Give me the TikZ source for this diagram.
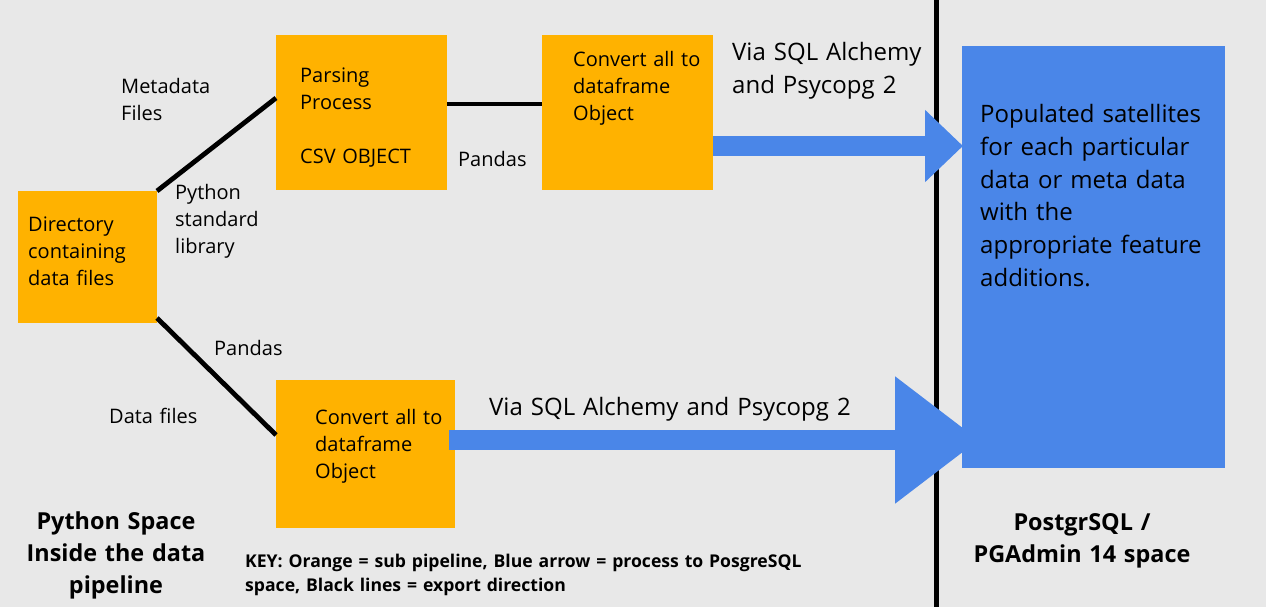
\documentclass[tikz,border=0pt]{standalone}
\usepackage{fontspec}
\setmainfont{Open Sans}
\usepackage{xcolor}
\usepackage{tikz}
\usetikzlibrary{arrows.meta,positioning}
\definecolor{bgGray}{HTML}{E8E8E8}
\definecolor{pipeOrange}{HTML}{FFB200}
\definecolor{pgBlue}{HTML}{4A86E8}
\tikzstyle{subPipe} = [rectangle, fill=pipeOrange, inner sep=0, outer sep=0, anchor=north west]
\tikzstyle{dbBox} = [rectangle, fill=pgBlue, inner sep=0, outer sep=0, anchor=north west]
\tikzstyle{exportLine} = [line width=4.8pt, black]
\tikzstyle{toPg} = [pgBlue, line width=20pt]
\tikzstyle{lbl} = [inner sep=0, text width=500pt, align=left, anchor=base west, font=\fontsize{20}{27}\selectfont]
\tikzstyle{bigLbl} = [lbl, font=\fontsize{24}{32.6}\selectfont]
\tikzstyle{spaceTitle} = [inner sep=0, text width=300pt, align=center, anchor=base, font=\bfseries\fontsize{23.4}{32.3}\selectfont]
\begin{document}
\begin{tikzpicture}[x=1pt,y=-1pt]
		\useasboundingbox (0,0) rectangle (1268,607);
		\fill[bgGray] (0,0) rectangle (1266,607);			% Hintergrund
		% nodes
		\node[subPipe, minimum width=139pt, minimum height=132pt] (dir) at (18,191) {};		% Verzeichnis
		\node[subPipe, minimum width=171pt, minimum height=155pt] (parse) at (276,35) {};		% Parsing
		\node[subPipe, minimum width=171pt, minimum height=155pt, right=95pt of parse] (convA) {}; 	% Dataframe oben
		\node[subPipe, minimum width=179pt, minimum height=148pt] (convB) at ([yshift=-190pt]parse.south west) {};	% Dataframe unten
		\node[dbBox, minimum width=263pt, minimum height=422pt] (sat) at (962,46) {};		% Satelliten
		\coordinate (divTop) at (936.5,0);		% Trennlinie
		\coordinate (divBot) at (936.5,607);
		\coordinate (tipA) at (963,146);		% Pfeilspitzen
		\coordinate (tipB) at (979,440);
		
		% texts
		\node[lbl] (dirTxt) at ([xshift=10pt,yshift=-40pt]dir.north west) {Directory\\containing\\data files};
		\node[lbl] (parseTxt) at ([xshift=24pt,yshift=-48pt]parse.north west) {Parsing\\Process\\[27pt]CSV OBJECT};
		\node[lbl] (convATxt) at ([xshift=31pt,yshift=-32pt]convA.north west) {Convert all to\\dataframe\\Object};
		\node[lbl] (convBTxt) at ([xshift=39pt,yshift=-44pt]convB.north west) {Convert all to\\dataframe\\Object};
		\node[bigLbl] (satTxt) at ([xshift=18pt,yshift=-77pt]sat.north west) {Populated satellites\\for each particular\\data or meta data\\with the\\appropriate feature\\additions.};
		\node[lbl] (metaTxt) at (121,94) {Metadata\\Files};
		\node[lbl] (stdTxt) at (175,199) {Python\\standard\\library};
		\node[lbl] (pandasA) at (458,166) {Pandas};
		\node[lbl] (pandasB) at (214,355) {Pandas};
		\node[lbl] (dataTxt) at (109,423) {Data files};
		\node[bigLbl] (viaA) at (732,61) {Via SQL Alchemy\\and Psycopg 2};
		\node[bigLbl] (viaB) at (489,415) {Via SQL Alchemy and Psycopg 2};
		\node[spaceTitle] (pySpace) at (116,529) {Python Space\\Inside the data\\pipeline};
		\node[spaceTitle] (pgSpace) at (1082,530) {PostgrSQL /\\PGAdmin 14 space};
		\node[lbl, text width=700pt, font=\bfseries\fontsize{17.6}{24}\selectfont] (key) at (245,567) {KEY: Orange = sub pipeline, Blue arrow = process to PosgreSQL\\space, Black lines = export direction};
		
		% lines
		\draw[line width=5pt] (divTop) -- (divBot);
		\draw[exportLine] (dir.north east) -- ([yshift=14.5pt]parse.west);
		\draw[exportLine] ([yshift=8.5pt]parse.east) -- ([yshift=8.5pt]convA.west);
		\draw[exportLine] ([yshift=5pt]dir.south east) -- ([yshift=19pt]convB.west);
		
		% blue arrows
		\draw[toPg, -{Triangle[length=38pt, width=70pt]}] (convA.east |- tipA) -- (tipA);
		\draw[toPg, -{Triangle[length=84pt, width=122pt]}] ([xshift=-6pt]convB.east |- tipB) -- (tipB);
\end{tikzpicture}
\end{document}
